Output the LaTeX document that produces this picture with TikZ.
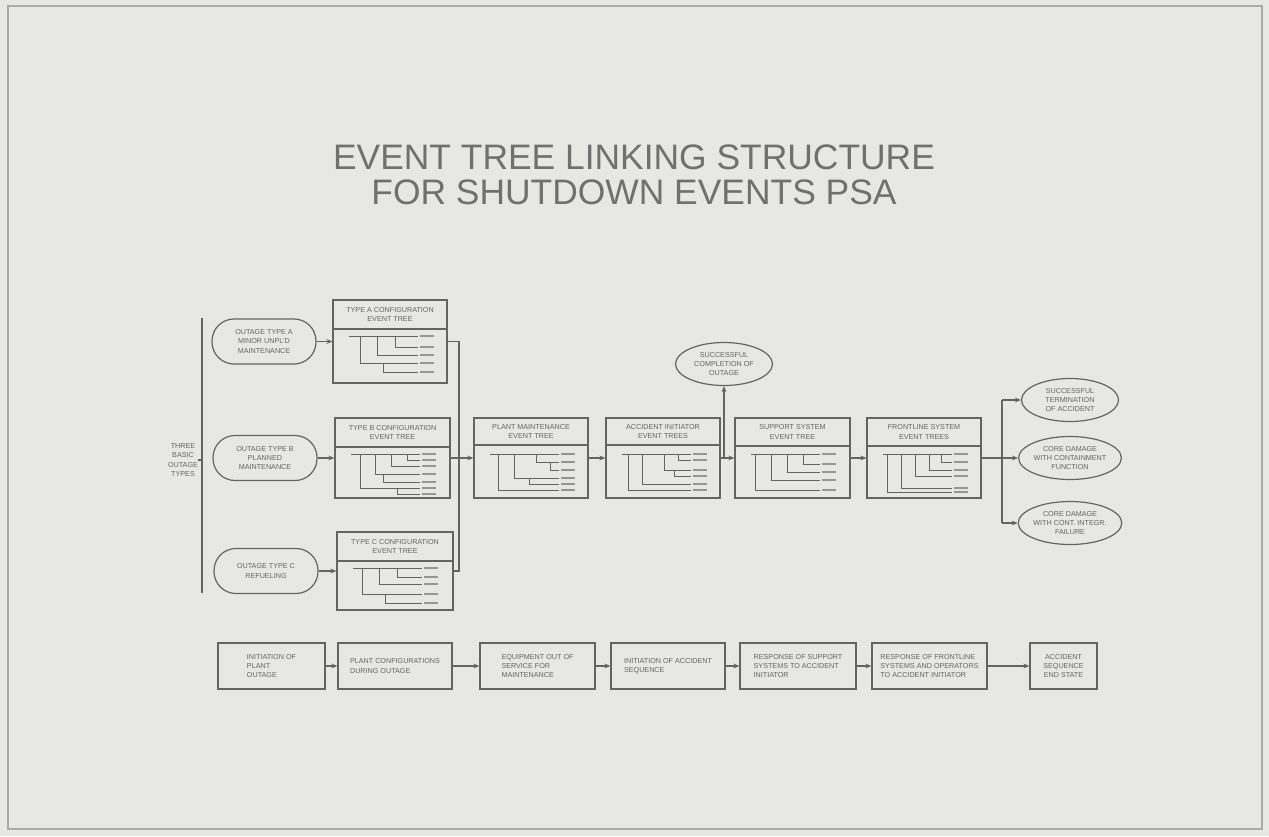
\documentclass[tikz,border=0pt]{standalone}
\usepackage{fontspec}
\setmainfont{Liberation Sans}
\usetikzlibrary{shapes.geometric,arrows.meta}
\definecolor{bgc}{RGB}{231,231,227}
\definecolor{linec}{RGB}{100,100,100}
\definecolor{txtc}{RGB}{100,100,100}
\definecolor{titc}{RGB}{112,112,112}
\definecolor{framec}{RGB}{170,170,167}
\definecolor{leafc}{RGB}{150,150,150}
\tikzset{
 ebox/.style={draw=linec, line width=0.6pt, inner sep=0pt},
 lbl/.style={font=\fontsize{3.6}{4.7}\selectfont, text=txtc, align=center, inner sep=0pt},
 conn/.style={draw=linec, line width=0.55pt},
 arr/.style={conn, -{Stealth[length=3pt,width=2.4pt]}},
 treeline/.style={draw=linec, line width=0.4pt},
 leafmark/.style={draw=leafc, line width=1.1pt},
 stad/.style={ebox, lbl, rounded corners=11pt, minimum width=52pt, minimum height=22.5pt},
 ell/.style={ebox, lbl, ellipse, minimum width=48.5pt, minimum height=21.5pt},
 stepbox/.style={ebox, lbl, minimum height=23pt},
 titlestyle/.style={font=\fontsize{17.7}{17.5}\selectfont, text=titc, align=center, inner sep=0pt},
}
\newcommand\etbox[8]{%
 \node[ebox, minimum width={(#4-#2)*0.5pt}, minimum height={(#5-#3)*0.5pt}] (#1) at ({(#2+#4)/2},{(#3+#5)/2}) {};
 \draw[ebox] (#2,#3+#6) -- (#4,#3+#6);
 \node[lbl] (#1t) at ({(#2+#4)/2},{#3+#6/2}) {#7};
 \begin{scope}[shift={(#2,#3)}]
  \draw[treeline] (16,36) -- (85,36);
  \draw[leafmark] (87,36) -- (101,36);
  \foreach \a/\b/\c in {#8} {\draw[treeline] (\a,\b) -- (\a,\c) -- (85,\c); \draw[leafmark] (87,\c) -- (101,\c);}
 \end{scope}}
\begin{document}
\begin{tikzpicture}[x=0.5pt,y=-0.5pt]
\fill[bgc] (0,0) rectangle (1269,836);
\useasboundingbox (0,0) rectangle (1269,836);
\draw[framec, line width=0.6pt] (8,6) rectangle (1262,829);

\node[titlestyle] (title) at (634,175) {EVENT TREE LINKING STRUCTURE\\FOR SHUTDOWN EVENTS PSA};

% left bracket
\coordinate (bt) at (202,318);
\coordinate (bb) at (202,593);
\coordinate (bm) at (202,460);
\draw[conn] (bt) -- (bb);
\node[lbl] (lt) at (183,460) {THREE\\BASIC\\OUTAGE\\TYPES};
\draw[conn] (lt.east) -- (bm);

% outage ovals
\node[stad] (oa) at (264,341.5) {OUTAGE TYPE A\\MINOR UNPL'D\\MAINTENANCE};
\node[stad] (ob) at (265,458) {OUTAGE TYPE B\\PLANNED\\MAINTENANCE};
\node[stad] (oc) at (266,571) {OUTAGE TYPE C\\REFUELING};

% event tree boxes
\etbox{ta}{333}{300}{447}{383}{29}{TYPE A CONFIGURATION\\EVENT TREE}{27/36/63, 44/36/55, 62/36/47, 50/63/72}
\etbox{tb}{335}{418}{450}{498}{29}{TYPE B CONFIGURATION\\EVENT TREE}{25/36/70, 40/36/56, 56/36/48, 72/36/42, 48/56/64, 62/70/76}
\etbox{tc}{337}{532}{453}{610}{29}{TYPE C CONFIGURATION\\EVENT TREE}{25/36/62, 42/36/52, 60/36/45, 48/62/71}
\etbox{pm}{474}{418}{588}{498}{27}{PLANT MAINTENANCE\\EVENT TREE}{24/36/72, 40/36/60, 62/36/44, 76/44/52, 55/60/66}
\etbox{ai}{606}{418}{720}{498}{27}{ACCIDENT INITIATOR\\EVENT TREES}{22/36/72, 36/36/66, 58/36/52, 72/36/42, 68/52/58}
\etbox{ss}{735}{418}{850}{498}{28}{SUPPORT SYSTEM\\EVENT TREE}{20/36/72, 36/36/62, 52/36/54, 68/36/46}
\etbox{fl}{867}{418}{981}{498}{28}{FRONTLINE SYSTEM\\EVENT TREES}{20/36/74, 34/36/70, 48/36/58, 62/36/52, 74/36/44}

% end state ovals
\node[ell] (sc) at (724,364) {SUCCESSFUL\\COMPLETION OF\\OUTAGE};
\node[ell] (r1) at (1070,400) {SUCCESSFUL\\TERMINATION\\OF ACCIDENT};
\node[ell] (r2) at (1070,458) {CORE DAMAGE\\WITH CONTAINMENT\\FUNCTION};
\node[ell] (r3) at (1070,523) {CORE DAMAGE\\WITH CONT. INTEGR.\\FAILURE};

% connectors top
\draw[arr] (oa.east) -- (ta.west);
\draw[arr] (ob.east) -- (tb.west);
\draw[arr] (oc.east) -- (tc.west);
\coordinate (j1) at (459,341.5);
\coordinate (j2) at (459,458);
\coordinate (j3) at (459,571);
\draw[conn] (ta.east) -- (j1) -- (j3) -- (tc.east);
\draw[conn] (tb.east) -- (j2);
\draw[arr] (j2) -- (pm.west);
\draw[arr] (pm.east) -- (ai.west);
\draw[arr] (ai.east) -- (ss.west);
\draw[arr] (ss.east) -- (fl.west);
\coordinate (jc) at (724,458);
\draw[arr] (jc) -- (sc.south);
\coordinate (f0) at (1002,458);
\coordinate (f1) at (1002,400);
\coordinate (f3) at (1002,523);
\draw[conn] (fl.east) -- (f0);
\draw[conn] (f1) -- (f3);
\draw[arr] (f1) -- (r1.west);
\draw[arr] (f0) -- (r2.west);
\draw[arr] (f3) -- (r3.west);

% bottom row
\node[stepbox, align=left, minimum width=53.5pt] (b1) at (271.5,666) {INITIATION OF\\PLANT\\OUTAGE};
\node[stepbox, align=left, minimum width=57pt] (b2) at (395,666) {PLANT CONFIGURATIONS\\DURING OUTAGE};
\node[stepbox, align=left, minimum width=57.5pt] (b3) at (537.5,666) {EQUIPMENT OUT OF\\SERVICE FOR\\MAINTENANCE};
\node[stepbox, align=left, minimum width=57pt] (b4) at (668,666) {INITIATION OF ACCIDENT\\SEQUENCE};
\node[stepbox, align=left, minimum width=58pt] (b5) at (798,666) {RESPONSE OF SUPPORT\\SYSTEMS TO ACCIDENT\\INITIATOR};
\node[stepbox, align=left, minimum width=57.5pt] (b6) at (929.5,666) {RESPONSE OF FRONTLINE\\SYSTEMS AND OPERATORS\\TO ACCIDENT INITIATOR};
\node[stepbox, align=center, minimum width=33.5pt] (b7) at (1063.5,666) {ACCIDENT\\SEQUENCE\\END STATE};
\draw[arr] (b1) -- (b2);
\draw[arr] (b2) -- (b3);
\draw[arr] (b3) -- (b4);
\draw[arr] (b4) -- (b5);
\draw[arr] (b5) -- (b6);
\draw[arr] (b6) -- (b7);
\end{tikzpicture}
\end{document}
